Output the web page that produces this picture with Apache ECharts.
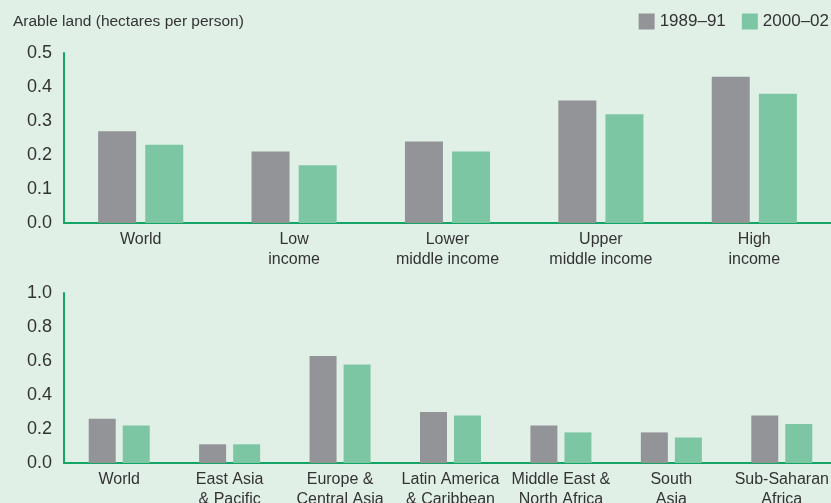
<!DOCTYPE html>
<html><head><meta charset="utf-8">
<script src="https://cdn.jsdelivr.net/npm/echarts@6/dist/echarts.min.js"></script>
<style>html,body{margin:0;padding:0;background:#e1f0e7;}#c{width:831px;height:503px;}</style>
</head><body><div id="c"></div>
<script>
const incomeCategories = ["World", "Low\nincome", "Lower\nmiddle income", "Upper\nmiddle income", "High\nincome"];
const income1989 = [0.27, 0.21, 0.24, 0.36, 0.43];
const income2000 = [0.23, 0.17, 0.21, 0.32, 0.38];
const regionCategories = ["World", "East Asia\n& Pacific", "Europe &\nCentral Asia", "Latin America\n& Caribbean", "Middle East &\nNorth Africa", "South\nAsia", "Sub-Saharan\nAfrica"];
const region1989 = [0.26, 0.11, 0.63, 0.30, 0.22, 0.18, 0.28];
const region2000 = [0.22, 0.11, 0.58, 0.28, 0.18, 0.15, 0.23];
const seriesNames = ["1989–91", "2000–02"];
const topTicks = {min: 0, max: 0.5, interval: 0.1};
const bottomTicks = {min: 0, max: 1.0, interval: 0.2};

const GRAY = "#939497", GREEN = "#7cc6a4", AXIS = "#14a566", TXT = "#333333";
const FONT = "Liberation Sans";
const chart = echarts.init(document.getElementById('c'));
function xAx(idx, data) {
  return {type: 'category', gridIndex: idx, data: data,
    axisLine: {show: true, lineStyle: {color: AXIS, width: 2}},
    axisTick: {show: false},
    axisLabel: {color: TXT, fontFamily: FONT, fontSize: 16, lineHeight: 20, margin: 7, interval: 0}};
}
function yAx(idx, t) {
  return {type: 'value', gridIndex: idx, min: t.min, max: t.max, interval: t.interval,
    axisLine: {show: true, lineStyle: {color: AXIS, width: 2}},
    axisTick: {show: false}, splitLine: {show: false},
    axisLabel: {color: TXT, fontFamily: FONT, fontSize: 18, margin: 12, formatter: v => v.toFixed(1)}};
}
function bar(name, idx, data, color, w, gap) {
  return {name: name, type: 'bar', xAxisIndex: idx, yAxisIndex: idx, data: data,
    itemStyle: {color: color}, barWidth: w, barGap: gap, silent: true};
}
chart.setOption({
  backgroundColor: '#e1f0e7',
  animation: false,
  title: {text: 'Arable land (hectares per person)', left: 8, top: 9,
    textStyle: {color: TXT, fontFamily: FONT, fontSize: 15.5, fontWeight: 'normal'}},
  legend: {data: seriesNames, right: -3, top: 8, itemWidth: 16, itemHeight: 16, itemGap: 16,
    icon: 'rect', textStyle: {color: TXT, fontFamily: FONT, fontSize: 17}, selectedMode: false},
  grid: [
    {left: 64, top: 53, width: 767, height: 170, containLabel: false, outerBoundsMode: 'none'},
    {left: 64, top: 293, width: 773, height: 170, containLabel: false, outerBoundsMode: 'none'}
  ],
  xAxis: [xAx(0, incomeCategories), xAx(1, regionCategories)],
  yAxis: [yAx(0, topTicks), yAx(1, bottomTicks)],
  series: [
    bar(seriesNames[0], 0, income1989, GRAY, 38, '24%'),
    bar(seriesNames[1], 0, income2000, GREEN, 38, '24%'),
    bar(seriesNames[0], 1, region1989, GRAY, 27, '26%'),
    bar(seriesNames[1], 1, region2000, GREEN, 27, '26%')
  ]
});
</script></body></html>
